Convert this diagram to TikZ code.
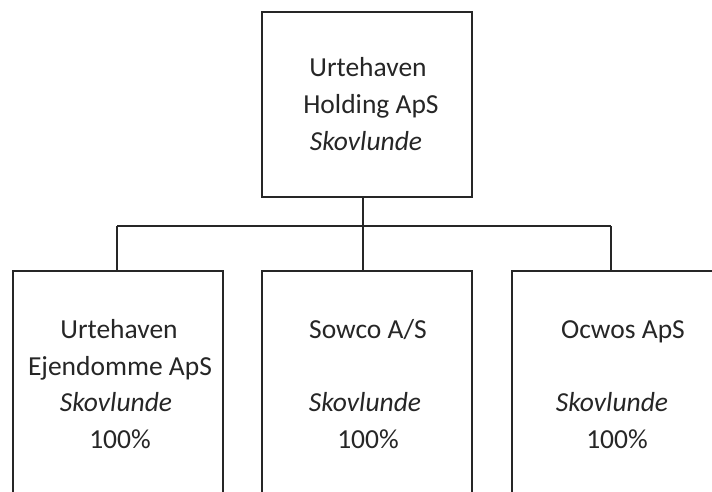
\documentclass[tikz,border=0pt]{standalone}
\usepackage{fontspec}
\setmainfont{Carlito}
\begin{document}
\begin{tikzpicture}[x=1pt,y=-1pt,
  box/.style={draw=black!85, line width=1.8pt, minimum width=210pt, inner sep=0pt},
  lbl/.style={anchor=base, inner sep=0pt, font=\fontsize{27.5}{36}\selectfont, text=black!85},
  link/.style={draw=black!85, line width=1.4pt}]
\useasboundingbox (0,0) rectangle (712,492);
\fill[white] (0,0) rectangle (712,492);
\clip (0,0) rectangle (712,492);
% boxes
\node[box, minimum height=185pt] (top) at (367,104.5) {};
\node[box, minimum height=240pt] (left) at (118,391) {};
\node[box, minimum height=240pt] (mid) at (367,391) {};
\node[box, minimum height=240pt] (right) at (617,391) {};
% connectors
\coordinate (jm) at (363,226);
\coordinate (jl) at (117,226);
\coordinate (jr) at (611,226);
\draw[link] (jm |- top.south) -- (jm);
\draw[link] (jl) -- (jr);
\draw[link] (jl) -- (jl |- left.north);
\draw[link] (jm) -- (jm |- mid.north);
\draw[link] (jr) -- (jr |- right.north);
% top texts
\node[lbl] (t1) at (368,77) {Urtehaven};
\node[lbl] (t2) at (371,114) {Holding ApS};
\node[lbl] (t3) at (366,150) {\itshape Skovlunde};
% left texts
\node[lbl] (l1) at (119,338) {Urtehaven};
\node[lbl] (l2) at (120,375) {Ejendomme ApS};
\node[lbl] (l3) at (116,411) {\itshape Skovlunde};
\node[lbl] (l4) at (120,448) {100\%};
% middle texts
\node[lbl] (m1) at (368,338) {Sowco A/S};
\node[lbl] (m3) at (365,411) {\itshape Skovlunde};
\node[lbl] (m4) at (368,448) {100\%};
% right texts
\node[lbl] (r1) at (623,338) {Ocwos ApS};
\node[lbl] (r3) at (612,411) {\itshape Skovlunde};
\node[lbl] (r4) at (617,448) {100\%};
\end{tikzpicture}
\end{document}
